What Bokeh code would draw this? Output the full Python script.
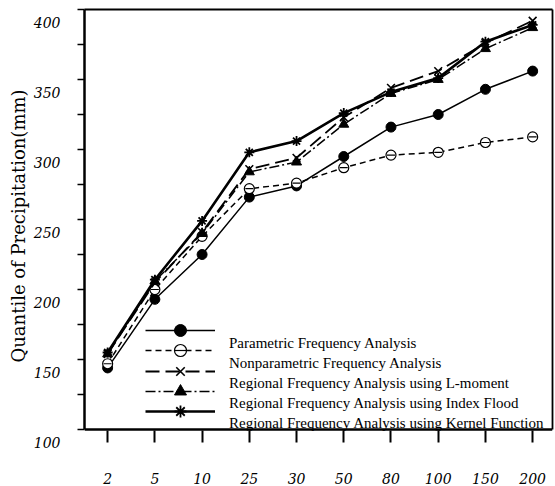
from bokeh.plotting import figure
from bokeh.models import Range1d, FixedTicker, Legend, LegendItem, LinearAxis, Span
from bokeh.embed import file_html
from bokeh.resources import INLINE

return_periods = ["2", "5", "10", "25", "30", "50", "80", "100", "150", "200"]
parametric = [144, 193, 225, 266, 274, 295, 316, 325, 343, 356]
nonparametric = [147, 200, 238, 272, 276, 287, 296, 298, 305, 309]
lmoment = [154, 205, 241, 286, 294, 323, 344, 356, 376, 392]
index_flood = [154, 206, 240, 284, 291, 318, 340, 350, 372, 387]
kernel = [155, 207, 249, 298, 306, 326, 341, 351, 377, 389]
y_ticks = [100, 125, 150, 175, 200, 225, 250, 275, 300, 325, 350, 375, 400]
y_label_values = [100, 150, 200, 250, 300, 350, 400]
labels = ["Parametric Frequency Analysis",
          "Nonparametric Frequency Analysis",
          "Regional Frequency Analysis using L-moment",
          "Regional Frequency Analysis using Index Flood",
          "Regional Frequency Analysis using Kernel Function"]
y_title = "Quantile of Precipitation(mm)"
y_min, y_max = 100, 400

xs = list(range(len(return_periods)))
serif = "DejaVu Serif"

W, H = 555, 486
TOP = 9
px_per_unit = 421 / (y_max - y_min)
drop_px = 13                      # x ticks hang this far below the 100 line
shift = drop_px / px_per_unit
BOTTOM = H - TOP - 421 - drop_px

p = figure(width=W, height=H, output_backend="svg", toolbar_location=None,
           x_range=Range1d(-0.49, 9.42), y_range=Range1d(y_min - shift, y_max),
           min_border_left=84, min_border_right=3, min_border_top=TOP, min_border_bottom=BOTTOM)
p.grid.visible = False
p.outline_line_color = None

# x axis: ticks hanging from the 100 line, labels below
p.xaxis.ticker = FixedTicker(ticks=xs)
p.xaxis.major_label_overrides = {i: return_periods[i] for i in xs}
p.xaxis.axis_line_color = None
p.xaxis.major_tick_in = drop_px - 1
p.xaxis.major_tick_out = 0
p.xaxis.minor_tick_out = 0
p.xaxis.minor_tick_in = 0
p.xaxis.major_tick_line_width = 2
p.xaxis.major_label_standoff = 30
p.xaxis.major_label_text_font = serif
p.xaxis.major_label_text_font_style = "italic"
p.xaxis.major_label_text_font_size = "14px"
p.xaxis.major_label_text_color = "black"
p.add_layout(Span(location=y_min, dimension="width", line_color="black", line_width=2.5))

# frame top and right
top_axis = LinearAxis(ticker=FixedTicker(ticks=[]), axis_line_width=2,
                      major_tick_out=0, major_tick_in=0, minor_tick_out=0, minor_tick_in=0,
                      major_label_text_font_size="0px", major_label_standoff=0)
p.add_layout(top_axis, "above")
right_axis = LinearAxis(ticker=FixedTicker(ticks=[]), bounds=(y_min, y_max), axis_line_width=1.8,
                        major_tick_out=0, major_tick_in=0, minor_tick_out=0, minor_tick_in=0,
                        major_label_text_font_size="0px", major_label_standoff=0)
p.add_layout(right_axis, "right")

# y axis: line and ticks
p.yaxis[0].ticker = FixedTicker(ticks=y_ticks)
p.yaxis[0].bounds = (y_min, y_max)
p.yaxis[0].major_label_overrides = {t: "" for t in y_ticks}
p.yaxis[0].major_label_text_font_size = "0px"
p.yaxis[0].major_label_standoff = 0
p.yaxis[0].major_tick_out = 7
p.yaxis[0].major_tick_in = 0
p.yaxis[0].minor_tick_out = 0
p.yaxis[0].major_tick_line_width = 1.5
p.yaxis[0].axis_line_width = 2.5

# y tick labels, printed a little below their ticks as in the original
p.extra_y_ranges = {"labels": Range1d(y_min - 1e-6, y_max + shift)}
lab_axis = LinearAxis(y_range_name="labels", ticker=FixedTicker(ticks=y_label_values))
lab_axis.axis_line_color = None
lab_axis.major_tick_out = 0
lab_axis.major_tick_in = 0
lab_axis.minor_tick_out = 0
lab_axis.minor_tick_in = 0
lab_axis.major_label_standoff = 17
lab_axis.major_label_text_font = serif
lab_axis.major_label_text_font_style = "italic"
lab_axis.major_label_text_font_size = "14px"
lab_axis.major_label_text_color = "black"
lab_axis.axis_label = y_title
lab_axis.axis_label_standoff = 2
lab_axis.axis_label_text_font = serif
lab_axis.axis_label_text_font_style = "normal"
lab_axis.axis_label_text_font_size = "18px"
lab_axis.axis_label_text_color = "black"
p.add_layout(lab_axis, "left")

# series
r1l = p.line(xs, parametric, line_color="black", line_width=1.5)
r1m = p.scatter(xs, parametric, marker="circle", size=10, fill_color="black", line_color="black")

r2l = p.line(xs, nonparametric, line_color="black", line_width=1.5, line_dash="6 4")
r2m = p.scatter(xs, nonparametric, marker="circle", size=10, fill_color="white", line_color="black", line_width=1.2)
r2d = p.scatter(xs, nonparametric, marker="dash", size=8, line_color="black", line_width=1.2)

r3l = p.line(xs, lmoment, line_color="black", line_width=1.8, line_dash="14 6")
r3m = p.scatter(xs, lmoment, marker="x", size=11, line_color="black", line_width=1.6)

r4l = p.line(xs, index_flood, line_color="black", line_width=1.5, line_dash="10 3 2 3")
r4m = p.scatter(xs, index_flood, marker="triangle", size=10, fill_color="black", line_color="black")

r5l = p.line(xs, kernel, line_color="black", line_width=2.6)
r5m = p.scatter(xs, kernel, marker="asterisk", size=10, line_color="black", line_width=1.8)

# legend samples: one small legend per row so that the samples are large
sample_groups = [[r1l, r1m], [r2l, r2m, r2d], [r3l, r3m], [r4l, r4m], [r5l, r5m]]
for i, rs in enumerate(sample_groups):
    lg = Legend(items=[LegendItem(label=" ", renderers=rs)],
                location=(61, round(84 + drop_px - 20.25 * i)), padding=0, margin=0, spacing=0,
                glyph_width=70, glyph_height=30, label_height=20, label_standoff=0,
                label_text_font_size="1px", background_fill_alpha=0, border_line_alpha=0)
    p.add_layout(lg)

# legend texts, set a little lower than their samples as in the original
ghost = p.line(xs, parametric, line_alpha=0)
text_legend = Legend(items=[LegendItem(label=t, renderers=[ghost]) for t in labels],
                     location=(145, drop_px - 4), padding=0, margin=0, spacing=0,
                     glyph_width=0, glyph_height=20, label_height=20, label_standoff=0,
                     label_text_font="Liberation Serif", label_text_font_size="15px",
                     label_text_color="black",
                     background_fill_alpha=0, border_line_alpha=0)
p.add_layout(text_legend)

open("out.html", "w").write(file_html(p, INLINE))
